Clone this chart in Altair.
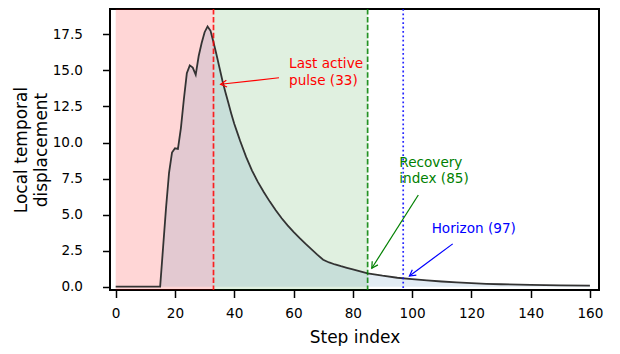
import math
import altair as alt
import pandas as pd

# ---- data ----
steps = [0, 15, 16, 17, 18, 19, 20, 21, 22, 23, 24, 25, 26, 27, 28, 29, 30, 31, 32, 33,
         34, 35, 36, 37, 38, 39, 40, 41, 42, 44, 46, 48, 50, 52, 54, 56, 58, 60, 62, 64, 66,
         68, 70, 72, 74, 76, 78, 80, 85, 90, 95, 100, 105, 110, 115, 120, 125, 130, 140, 150, 160]
values = [0.0, 0.0, 2.75, 5.5, 7.9, 9.3, 9.6, 9.55, 11.0, 13.0, 14.8, 15.35, 15.2, 14.7, 16.0, 16.9, 17.65, 18.05, 17.75, 16.95,
          16.1, 15.2, 14.3, 13.5, 12.75, 12.0, 11.3, 10.7, 10.1, 9.0, 8.05, 7.25, 6.55, 5.9, 5.3, 4.75, 4.25, 3.8, 3.38, 2.98, 2.6,
          2.22, 1.87, 1.68, 1.54, 1.42, 1.31, 1.2, 0.93, 0.76, 0.62, 0.52, 0.44, 0.36, 0.30, 0.24, 0.20, 0.17, 0.12, 0.09, 0.07]

span_start = [0, 33]
span_end = [33, 85]
span_color = ["#ff0000", "#008000"]
span_opacity = [0.16, 0.12]

marker_x = [33, 85, 97]
marker_color = ["#ff0000", "#008000", "#0000ff"]
marker_dash = ["dash", "dash", "dot"]

ann_text = ["Last active\npulse (33)", "Recovery\nindex (85)", "Horizon (97)"]
ann_color = ["#ff0000", "#008000", "#0000ff"]
ann_text_x = [58.5, 95.7, 106.6]
ann_text_y = [15.15, 8.32, 3.70]
arrow_tail_x = [55.1, 102.1, 113.7]
arrow_tail_y = [14.49, 6.36, 2.97]
arrow_head_x = [35.4, 86.4, 99.1]
arrow_head_y = [14.04, 1.28, 0.74]

x_ticks = [0, 20, 40, 60, 80, 100, 120, 140, 160]
y_ticks = [0, 2.5, 5, 7.5, 10, 12.5, 15, 17.5]

# ---- layout ----
W, H = 489, 281
XDOM = [-1.92, 163.06]
YDOM = [-0.23, 19.26]
FONT = "DejaVu Sans"

kx = W / (XDOM[1] - XDOM[0])
ky = H / (YDOM[1] - YDOM[0])

curve = pd.DataFrame({"step": steps, "value": values})
spans = pd.DataFrame({"x0": span_start, "x1": span_end, "c": span_color, "o": span_opacity})

angles = []
for tx, ty, hx, hy in zip(arrow_tail_x, arrow_tail_y, arrow_head_x, arrow_head_y):
    dx = (hx - tx) * kx
    dy = -(hy - ty) * ky
    angles.append(math.degrees(math.atan2(dy, dx)) % 360)

ann = pd.DataFrame({
    "text": ann_text, "c": ann_color, "tx": ann_text_x, "ty": ann_text_y,
    "ax": arrow_tail_x, "ay": arrow_tail_y, "hx": arrow_head_x, "hy": arrow_head_y,
    "ang": angles,
})

xs = alt.Scale(domain=XDOM, nice=False, zero=False)
ys = alt.Scale(domain=YDOM, nice=False, zero=False)

xaxis = alt.Axis(values=x_ticks, format="d", title="Step index",
                 labelBaseline="alphabetic", labelPadding=20,
                 titleBaseline="alphabetic", titleY=52, titleX=W / 2)
yaxis = alt.Axis(values=y_ticks, format=".1f", title=["Local temporal", "displacement"],
                 labelPadding=20, titleAngle=270, titleBaseline="alphabetic",
                 titleAlign="center", titleX=-83.5, titleY=H / 2, titleLineHeight=19.5)

span_layer = alt.Chart(spans).mark_rect().encode(
    x=alt.X("x0:Q", scale=xs, axis=xaxis),
    x2="x1:Q",
    y=alt.value(0),
    y2=alt.value(H),
    color=alt.Color("c:N", scale=None),
    opacity=alt.Opacity("o:Q", scale=None),
)

area = alt.Chart(curve).mark_area(color="#4682b4", opacity=0.15).encode(
    x=alt.X("step:Q", scale=xs, axis=xaxis),
    y=alt.Y("value:Q", scale=ys, axis=yaxis),
    y2=alt.datum(0),
)

line = alt.Chart(curve).mark_line(color="#333333", strokeWidth=1.8).encode(
    x=alt.X("step:Q", scale=xs, axis=xaxis),
    y=alt.Y("value:Q", scale=ys, axis=yaxis),
)

rules = []
for mx, mc, md in zip(marker_x, marker_color, marker_dash):
    dash = [5.5, 2.4] if md == "dash" else [1.8, 2.6]
    rules.append(
        alt.Chart(pd.DataFrame({"x": [mx]})).mark_rule(
            color=mc, strokeWidth=1.7, strokeDash=dash, opacity=0.85
        ).encode(x=alt.X("x:Q", scale=xs, axis=xaxis))
    )

arrows = alt.Chart(ann).mark_rule(strokeWidth=1.2).encode(
    x=alt.X("ax:Q", scale=xs, axis=xaxis),
    y=alt.Y("ay:Q", scale=ys, axis=yaxis),
    x2="hx:Q",
    y2="hy:Q",
    color=alt.Color("c:N", scale=None),
)

heads = alt.Chart(ann).mark_point(
    shape="M -1 -0.55 L 0 0 L -1 0.55", filled=False, strokeWidth=1.2, size=150, opacity=1
).encode(
    x=alt.X("hx:Q", scale=xs, axis=xaxis),
    y=alt.Y("hy:Q", scale=ys, axis=yaxis),
    angle=alt.Angle("ang:Q", scale=None),
    color=alt.Color("c:N", scale=None),
)

texts = alt.Chart(ann).mark_text(
    align="left", baseline="alphabetic", lineBreak="\n", fontSize=13.6, font=FONT, lineHeight=16.5
).encode(
    x=alt.X("tx:Q", scale=xs, axis=xaxis),
    y=alt.Y("ty:Q", scale=ys, axis=yaxis),
    text="text:N",
    color=alt.Color("c:N", scale=None),
)

chart = alt.layer(span_layer, area, line, *rules, arrows, heads, texts).properties(
    width=W, height=H,
    autosize=alt.AutoSizeParams(type="none"),
    padding={"left": 102, "top": 1, "right": 13, "bottom": 56},
).configure_view(
    stroke="black", strokeWidth=2
).configure_axis(
    domain=False, grid=False,
    tickColor="black", tickWidth=1.5, tickSize=7.5,
    labelColor="black", labelFont=FONT, labelFontSize=13.6,
    titleColor="black", titleFont=FONT, titleFontSize=17, titleFontWeight="normal",
)

chart.save("out.html", embed_options={"renderer": "svg", "actions": False})
